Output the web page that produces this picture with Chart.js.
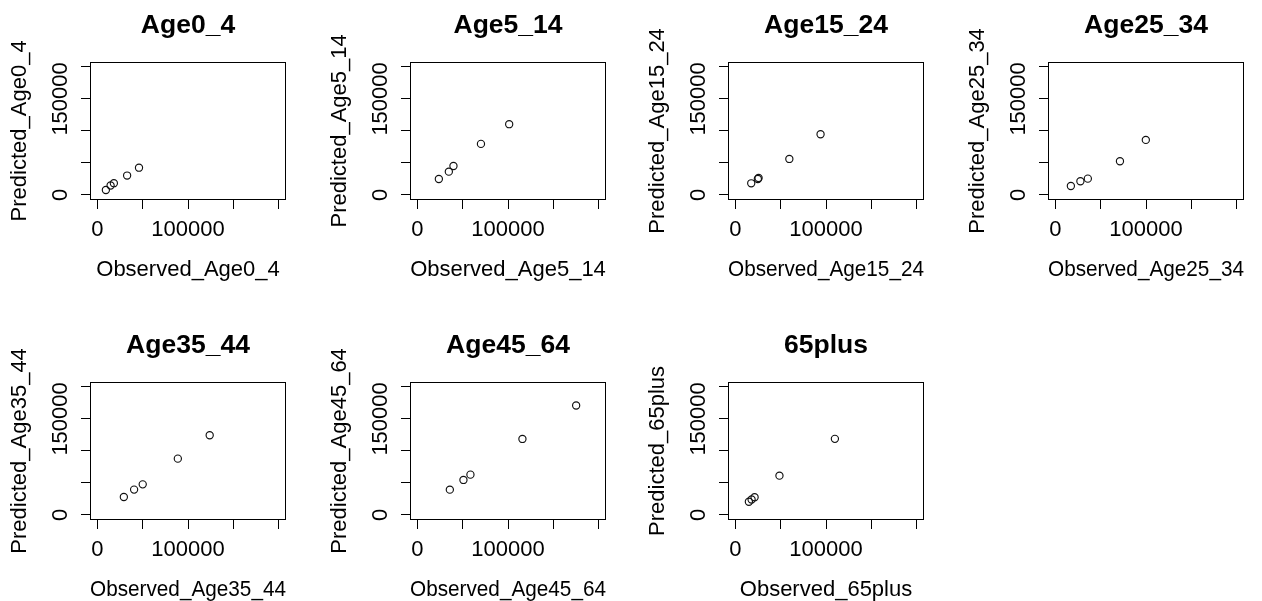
<!DOCTYPE html>
<html>
<head>
<meta charset="utf-8">
<script src="https://cdn.jsdelivr.net/npm/chart.js@4"></script>
<style>
  html, body { margin: 0; padding: 0; background: #fff; overflow: hidden; }
  body { width: 1262px; height: 601px; position: relative; }
  canvas { position: absolute; }
</style>
</head>
<body>
<script>
// age groups, one panel each
const groups = ["Age0_4", "Age5_14", "Age15_24", "Age25_34", "Age35_44", "Age45_64", "65plus"];

// observed (x) and predicted (y) values
const obsAge0_4 = [9500, 14700, 18300, 32900, 46000];
const predAge0_4 = [7700, 14600, 18300, 30200, 42500];
const obsAge5_14 = [23800, 34800, 39900, 70200, 101300];
const predAge5_14 = [24900, 36300, 45200, 79700, 110500];
const obsAge15_24 = [17600, 24900, 25700, 59600, 94000];
const predAge15_24 = [18100, 24900, 26400, 56200, 94800];
const obsAge25_34 = [17200, 27700, 35900, 71300, 99800];
const predAge25_34 = [13900, 21300, 25400, 52600, 85900];
const obsAge35_44 = [29300, 40600, 50100, 88800, 123900];
const predAge35_44 = [28000, 39500, 47700, 87900, 124400];
const obsAge45_64 = [35900, 50900, 58600, 115900, 175100];
const predAge45_64 = [39400, 54600, 62900, 118700, 170900];
const obs65plus = [15000, 18000, 21300, 48700, 109800];
const pred65plus = [20500, 24000, 27500, 61300, 118800];

const observed = [obsAge0_4, obsAge5_14, obsAge15_24, obsAge25_34, obsAge35_44, obsAge45_64, obs65plus];
const predicted = [predAge0_4, predAge5_14, predAge15_24, predAge25_34, predAge35_44, predAge45_64, pred65plus];

// axis ticks (same on both axes) and the labels R kept
const tickValues = [0, 50000, 100000, 150000, 200000];
const xLabelValues = [0, 100000];
const yLabelValues = [0, 150000];

const FONT = "'Liberation Sans', Arial, Helvetica, sans-serif";
const colLefts = [90, 410, 728, 1048];
const rowTops = [62, 382];

// R style box around the plot region
const frame = {
  id: "frame",
  afterDraw(chart) {
    const { ctx, chartArea: a } = chart;
    ctx.save();
    ctx.strokeStyle = "#000";
    ctx.lineWidth = 1;
    ctx.strokeRect(Math.round(a.left) + 0.5, Math.round(a.top) + 0.5,
      Math.round(a.right - a.left) - 1, Math.round(a.bottom - a.top) - 1);
    ctx.restore();
  }
};

// y tick labels, rotated like R's las=0
const yLabels = {
  id: "yLabels",
  afterDraw(chart) {
    const { ctx } = chart;
    const y = chart.scales.y;
    ctx.save();
    ctx.font = "22px " + FONT;
    ctx.fillStyle = "#000";
    ctx.textAlign = "center";
    ctx.textBaseline = "middle";
    yLabelValues.forEach(v => {
      ctx.save();
      ctx.translate(y.right - 29, y.getPixelForValue(v));
      ctx.rotate(-Math.PI / 2);
      ctx.fillText(String(v), 0, 0);
      ctx.restore();
    });
    ctx.restore();
  }
};

groups.forEach((name, i) => {
  const col = i % 4;
  const row = Math.floor(i / 4);
  const cv = document.createElement("canvas");
  cv.width = 304;
  cv.height = 300;
  cv.style.left = (colLefts[col] - 90) + "px";
  cv.style.top = (rowTops[row] - 62) + "px";
  cv.style.width = "304px";
  cv.style.height = "300px";
  document.body.appendChild(cv);

  const points = observed[i].map((x, k) => ({ x, y: predicted[i][k] }));

  new Chart(cv, {
    type: "scatter",
    data: {
      datasets: [{
        data: points,
        pointRadius: 3.6,
        pointBorderWidth: 1.15,
        pointBorderColor: "#111",
        pointBackgroundColor: "rgba(0,0,0,0)",
        showLine: false
      }]
    },
    options: {
      responsive: false,
      animation: false,
      devicePixelRatio: 1,
      layout: { padding: { top: 0, right: 18, bottom: 0, left: 0 } },
      plugins: {
        legend: { display: false },
        tooltip: { enabled: false },
        title: {
          display: true,
          text: name,
          fullSize: false,
          color: "#000",
          font: { family: FONT, size: 26.5, weight: "bold", lineHeight: 1.2 },
          padding: { top: 10, bottom: 20 }
        }
      },
      scales: {
        x: {
          type: "linear",
          min: -8000,
          max: 208000,
          afterBuildTicks: s => { s.ticks = tickValues.map(v => ({ value: v })); },
          afterFit: s => { s.height = 100; },
          ticks: {
            autoSkip: false,
            maxRotation: 0,
            padding: 8,
            color: "#000",
            font: { family: FONT, size: 22, lineHeight: 1.2 },
            callback: v => xLabelValues.includes(v) ? String(v) : ""
          },
          grid: { drawOnChartArea: false, drawTicks: true, tickLength: 9, color: "#000", lineWidth: 1 },
          border: { display: false },
          title: {
            display: true,
            text: "Observed_" + name,
            color: "#000",
            font: { family: FONT, size: 22, lineHeight: 1.2 },
            padding: { top: 0, bottom: 17 }
          }
        },
        y: {
          type: "linear",
          min: -8000,
          max: 208000,
          afterBuildTicks: s => { s.ticks = tickValues.map(v => ({ value: v })); },
          afterFit: s => { s.width = 90; },
          ticks: { display: false },
          grid: { drawOnChartArea: false, drawTicks: true, tickLength: 9, color: "#000", lineWidth: 1 },
          border: { display: false },
          title: {
            display: true,
            text: "Predicted_" + name,
            color: "#000",
            font: { family: FONT, size: 22, lineHeight: 1.2 },
            padding: { top: 7, bottom: 0 }
          }
        }
      }
    },
    plugins: [frame, yLabels]
  });
});
</script>
</body>
</html>
